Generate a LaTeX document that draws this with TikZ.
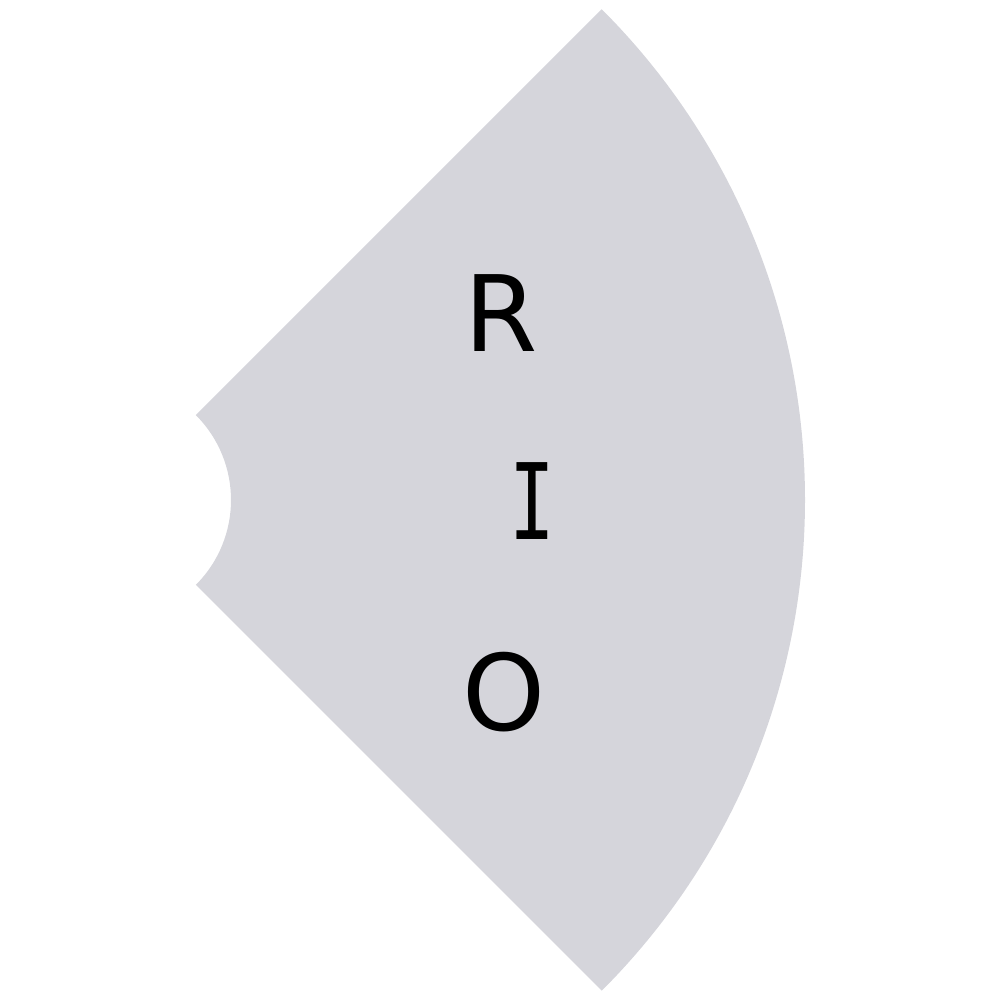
\documentclass[tikz,border=0pt]{standalone}
\usepackage{fontspec}
\setmainfont{DejaVu Sans}
\newfontfamily\monofont{DejaVu Sans Mono}
\usetikzlibrary{calc}
\definecolor{sectorgray}{RGB}{213,213,219}
\tikzset{letter/.style={inner sep=0pt,anchor=base,text=black,font=\fontsize{30}{36}\selectfont}}
\begin{document}
\begin{tikzpicture}[x=0.01cm,y=0.01cm]
\useasboundingbox (0,0) rectangle (1000,1000);
\coordinate (c) at (111,500);
\fill[sectorgray] ($(c)+(45:694)$) arc[start angle=45,end angle=-45,radius=694] -- ($(c)+(-45:120)$) arc[start angle=-45,end angle=45,radius=120] -- cycle;
\node[letter] (r) at (501.5,648) {R};
\node[letter,font=\fontsize{30}{36}\monofont,xscale=0.72] (i) at (532.5,460) {I};
\node[letter] (o) at (504,269) {O};
\end{tikzpicture}
\end{document}
